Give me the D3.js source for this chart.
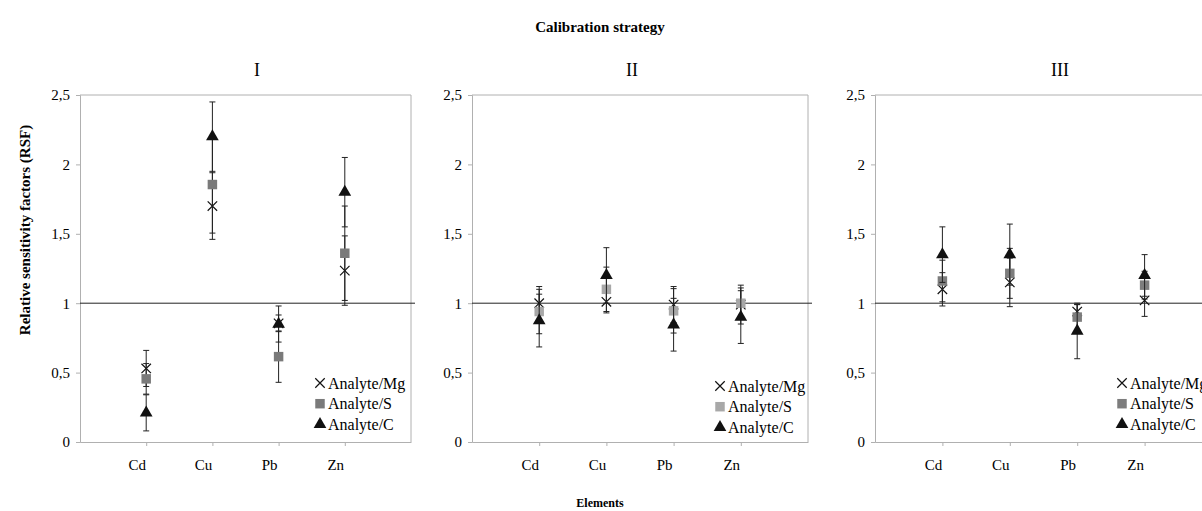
<!DOCTYPE html>
<html>
<head>
<meta charset="utf-8">
<script src="https://cdn.jsdelivr.net/npm/d3@7"></script>
<style>
  body { margin: 0; background: #fff; }
  svg text { font-family: "Liberation Serif", "Times New Roman", serif; }
</style>
</head>
<body>
<div id="chart"></div>
<script>
// data
const strategies = ["I", "II", "III"];
const elements = ["Cd", "Cu", "Pb", "Zn"];
const seriesNames = ["Analyte/Mg", "Analyte/S", "Analyte/C"];
const yTicks = [0, 0.5, 1, 1.5, 2, 2.5];
const yTickLabels = ["0", "0,5", "1", "1,5", "2", "2,5"];

// one row per strategy (I, II, III), one value per element (Cd, Cu, Pb, Zn)
const mgValues = [[0.53, 1.70, 0.855, 1.235], [1.00, 1.01, 0.99, 0.99], [1.10, 1.15, 0.94, 1.02]];
const mgErrors = [[0.13, 0.24, 0.06, 0.25], [0.12, 0.08, 0.13, 0.14], [0.12, 0.175, 0.05, 0.115]];
const sValues = [[0.455, 1.855, 0.615, 1.36], [0.94, 1.10, 0.945, 1.00], [1.16, 1.215, 0.90, 1.13]];
const sErrors = [[0.11, 0.35, 0.185, 0.34], [0.16, 0.16, 0.16, 0.11], [0.15, 0.18, 0.09, 0.10]];
const cValues = [[0.21, 2.20, 0.85, 1.80], [0.875, 1.20, 0.845, 0.90], [1.35, 1.35, 0.80, 1.20]];
const cErrors = [[0.13, 0.25, 0.13, 0.25], [0.19, 0.20, 0.19, 0.19], [0.20, 0.22, 0.20, 0.15]];

const width = 1202, height = 511;
const panelLeft = [80, 472, 875];
const panelWidth = [331, 336, 337];
const squareColor = ["#7a7a7a", "#a8a8a8", "#7d7d7d"];
const legendX = [320, 720, 1122];
const legendY = [383, 386, 383];
const titleX = [257, 632, 1060];
const axisGray = "#b0b0b0";
const serif = "Liberation Serif, Times New Roman, serif";

const svg = d3.select("#chart").append("svg")
  .attr("width", width)
  .attr("height", height)
  .attr("font-family", serif);

const yScale = d3.scaleLinear().domain([0, 2.5]).range([442, 95]);

// main titles
svg.append("text")
  .attr("x", 600).attr("y", 32)
  .attr("text-anchor", "middle")
  .style("font-weight", "bold").style("font-size", "15px")
  .text("Calibration strategy");

svg.append("text")
  .attr("x", 600).attr("y", 507)
  .attr("text-anchor", "middle")
  .style("font-weight", "bold").style("font-size", "12px")
  .text("Elements");

svg.append("text")
  .attr("transform", "translate(25,230) rotate(-90)")
  .attr("text-anchor", "middle")
  .attr("dy", "0.35em")
  .style("font-weight", "bold").style("font-size", "15px")
  .text("Relative sensitivity factors (RSF)");

const symX = d3.symbol().type(d3.symbolX).size(60);
const symSquare = d3.symbol().type(d3.symbolSquare).size(90);
const symTri = d3.symbol().type(d3.symbolTriangle).size(70);

strategies.forEach((name, p) => {
  const left = panelLeft[p], right = left + panelWidth[p];
  const xScale = d3.scaleLinear().domain([0, 5]).range([left, right]);
  const g = svg.append("g");

  // plot border (top and right)
  g.append("path")
    .attr("d", `M${left},${yScale(2.5)}H${right}V${yScale(0)}`)
    .attr("fill", "none").attr("stroke", axisGray);

  // y axis
  const yAxis = g.append("g")
    .attr("transform", `translate(${left},0)`)
    .call(d3.axisLeft(yScale).tickValues(yTicks).tickSize(4).tickPadding(6)
      .tickFormat((d, i) => yTickLabels[i]))
    .attr("font-family", serif)
    .attr("font-size", 15);
  yAxis.select(".domain").attr("stroke", axisGray);
  yAxis.selectAll(".tick line").attr("stroke", axisGray);
  yAxis.selectAll("text").attr("fill", "#000");

  // x axis
  const xAxis = g.append("g")
    .attr("transform", `translate(0,${yScale(0)})`)
    .call(d3.axisBottom(xScale).tickValues([1, 2, 3, 4]).tickSize(4).tickSizeOuter(0).tickFormat(""));
  xAxis.select(".domain").attr("stroke", axisGray);
  xAxis.selectAll(".tick line").attr("stroke", axisGray);

  g.selectAll("text.cat")
    .data(elements)
    .join("text")
      .attr("class", "cat")
      .attr("x", (d, i) => xScale(i + 1) - 9)
      .attr("y", 470)
      .attr("text-anchor", "middle")
      .style("font-size", "15px")
      .text(d => d);

  // panel label
  g.append("text")
    .attr("x", titleX[p]).attr("y", 76)
    .attr("text-anchor", "middle")
    .style("font-size", "18px")
    .text(name);

  // reference line at RSF = 1
  g.append("line")
    .attr("x1", left).attr("x2", Math.min(right + 4, width))
    .attr("y1", yScale(1)).attr("y2", yScale(1))
    .attr("stroke", "#222").attr("stroke-width", 1);

  const series = [
    {vals: mgValues[p], errs: mgErrors[p], sym: symX, fill: "none", stroke: "#111"},
    {vals: sValues[p], errs: sErrors[p], sym: symSquare, fill: squareColor[p], stroke: "none"},
    {vals: cValues[p], errs: cErrors[p], sym: symTri, fill: "#111", stroke: "none"}
  ];

  series.forEach(s => {
    const pts = s.vals.map((v, i) => ({x: i + 1, v: v, e: s.errs[i]}));
    // error bars
    const eb = g.append("g").attr("stroke", "#222").attr("stroke-width", 1);
    eb.selectAll("line.v").data(pts).join("line")
      .attr("x1", d => xScale(d.x)).attr("x2", d => xScale(d.x))
      .attr("y1", d => yScale(d.v - d.e)).attr("y2", d => yScale(d.v + d.e));
    eb.selectAll("line.top").data(pts).join("line")
      .attr("x1", d => xScale(d.x) - 3).attr("x2", d => xScale(d.x) + 3)
      .attr("y1", d => yScale(d.v + d.e)).attr("y2", d => yScale(d.v + d.e));
    eb.selectAll("line.bot").data(pts).join("line")
      .attr("x1", d => xScale(d.x) - 3).attr("x2", d => xScale(d.x) + 3)
      .attr("y1", d => yScale(d.v - d.e)).attr("y2", d => yScale(d.v - d.e));
    // markers
    g.selectAll(null).data(pts).join("path")
      .attr("transform", d => `translate(${xScale(d.x)},${yScale(d.v)})`)
      .attr("d", s.sym)
      .attr("fill", s.fill)
      .attr("stroke", s.stroke)
      .attr("stroke-width", 1.2);
  });

  // legend
  const lg = g.append("g").attr("transform", `translate(${legendX[p]},${legendY[p]})`);
  series.forEach((s, i) => {
    lg.append("path")
      .attr("transform", `translate(0,${i * 20.7})`)
      .attr("d", s.sym)
      .attr("fill", s.fill)
      .attr("stroke", s.stroke)
      .attr("stroke-width", 1.2);
    lg.append("text")
      .attr("x", 8).attr("y", i * 20.7)
      .attr("dy", "0.35em")
      .style("font-size", "16px")
      .text(seriesNames[i]);
  });
});
</script>
</body>
</html>
